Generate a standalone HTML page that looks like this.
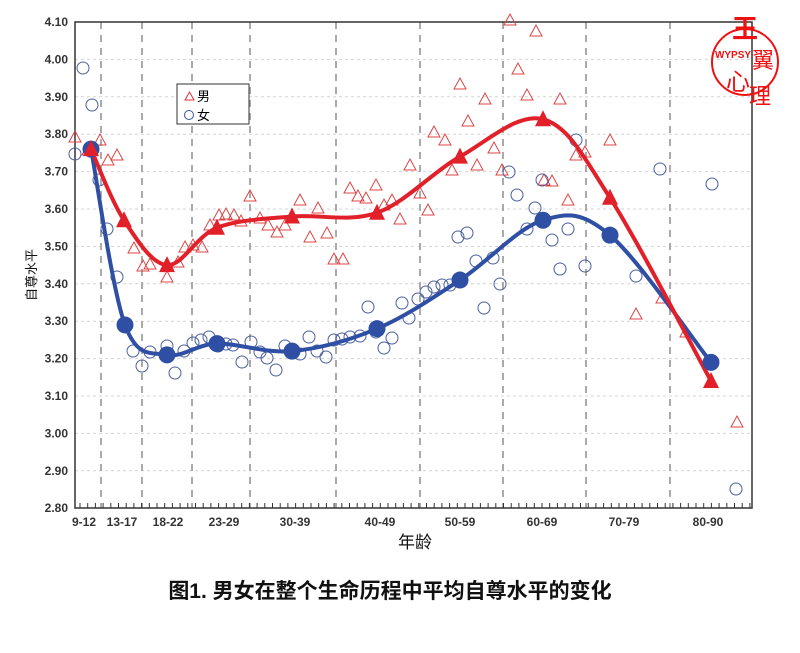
<!DOCTYPE html>
<html><head><meta charset="utf-8"><style>
body{margin:0;background:#fff;width:800px;height:648px;overflow:hidden}
svg text{font-family:"Liberation Sans","Noto Sans CJK SC",sans-serif}
</style></head><body>
<svg id="s" width="800" height="648" viewBox="0 0 800 648" xmlns="http://www.w3.org/2000/svg">
<g id="grid"></g>
<rect x="75" y="22" width="677" height="486" fill="none" stroke="#333" stroke-width="1.5"/>
<g id="pts"></g>
<g id="curves"></g>
<g id="labels" font-size="12" font-weight="bold" fill="#333"></g>
<rect x="177" y="84" width="72" height="40" fill="#fff" stroke="#333" stroke-width="1"/>
<polygon points="185,100 189.5,92 194,100" fill="none" stroke="#d33" stroke-width="1"/>
<text x="197" y="101" font-size="13">男</text>
<circle cx="189" cy="115" r="4.5" fill="none" stroke="#35a" stroke-width="1"/>
<text x="197" y="120" font-size="13">女</text>
<text x="415" y="548" font-size="17" text-anchor="middle" fill="#111">年龄</text>
<text transform="translate(36,275) rotate(-90)" font-size="13" text-anchor="middle" fill="#111">自尊水平</text>
<text x="390" y="598" font-size="21" font-weight="bold" text-anchor="middle" fill="#111">图1.  男女在整个生命历程中平均自尊水平的变化</text>
<g>
<circle cx="745" cy="62" r="33" fill="none" stroke="#e11" stroke-width="2"/>
<text x="745" y="38" font-size="26" fill="#e11" font-weight="bold" text-anchor="middle">王</text>
<text x="763" y="68" font-size="22" fill="#e11" text-anchor="middle">翼</text>
<text x="738" y="90" font-size="24" fill="#e11" text-anchor="middle">心</text>
<text x="760" y="104" font-size="22" fill="#e11" text-anchor="middle">理</text>
<text x="733" y="58" font-size="10" fill="#e11" font-weight="bold" text-anchor="middle">WYPSY</text>
</g>
</svg>
<script>
const NS="http://www.w3.org/2000/svg";
function el(t,a,p){const e=document.createElementNS(NS,t);for(const k in a)e.setAttribute(k,a[k]);document.getElementById(p).appendChild(e);return e;}
const Y=v=>22+(4.10-v)*374;
for(let i=0;i<=13;i++){const v=2.8+i*0.1,y=Y(v);
 if(i>0&&i<13)el('line',{x1:75,x2:752,y1:y,y2:y,stroke:'#d4d4d4','stroke-dasharray':'3,3'},'grid');
 const t=el('text',{x:68,y:y+4,'text-anchor':'end'},'labels');t.textContent=v.toFixed(2);}
[101,142,192,250,336,420,503,586,670].forEach(x=>el('line',{x1:x,x2:x,y1:22,y2:508,stroke:'#aaa','stroke-width':2,'stroke-dasharray':'7,6'},'grid'));
for(let x=80;x<752;x+=7.7)el('line',{x1:x,x2:x,y1:508,y2:503,stroke:'#333'},'grid');
[['9-12',84],['13-17',122],['18-22',168],['23-29',224],['30-39',295],['40-49',380],['50-59',460],['60-69',542],['70-79',624],['80-90',708]].forEach(([s,x])=>{const t=el('text',{x:x,y:526,'text-anchor':'middle'},'labels');t.textContent=s;});
const M=[[75,137],[88,150],[100,140],[108,160],[117,155],[134,248],[143,266],[150,264],[167,277],[178,262],[185,247],[193,245],[202,247],[210,225],[219,215],[226,214],[234,215],[241,221],[250,196],[260,218],[268,225],[277,232],[285,225],[300,200],[310,237],[318,208],[327,233],[334,259],[343,259],[350,188],[358,196],[366,198],[376,185],[384,205],[392,200],[400,219],[410,165],[420,193],[428,210],[434,132],[445,140],[452,170],[460,84],[468,121],[477,165],[485,99],[494,148],[502,170],[510,20],[518,69],[527,95],[536,31],[544,180],[552,181],[560,99],[568,200],[576,155],[585,152],[610,140],[636,314],[662,298],[686,332],[737,422]];
const F=[[75,154],[83,68],[92,105],[99,180],[107,229],[117,277],[133,351],[142,366],[150,352],[167,346],[175,373],[184,351],[193,343],[201,340],[209,337],[218,346],[226,344],[233,345],[242,362],[251,342],[260,352],[267,358],[276,370],[285,346],[292,353],[300,354],[309,337],[317,351],[326,357],[334,340],[342,339],[350,337],[360,336],[368,307],[376,332],[384,348],[392,338],[402,303],[409,318],[418,299],[426,292],[434,287],[442,285],[450,285],[458,237],[467,233],[476,261],[484,308],[493,258],[500,284],[509,172],[517,195],[527,229],[535,208],[542,180],[552,240],[560,269],[568,229],[576,140],[585,266],[636,276],[660,169],[712,184],[736,489]];
M.forEach(([x,y])=>el('polygon',{points:`${x-6},${y+5} ${x},${y-6} ${x+6},${y+5}`,fill:'none',stroke:'#d44','stroke-width':1},'pts'));
F.forEach(([x,y])=>el('circle',{cx:x,cy:y,r:6,fill:'none',stroke:'#4a5f9f','stroke-width':1},'pts'));
function cr(p){let d=`M${p[0][0]},${p[0][1]}`;for(let i=0;i<p.length-1;i++){const a=p[Math.max(0,i-1)],b=p[i],c=p[i+1],e=p[Math.min(p.length-1,i+2)];d+=` C${b[0]+(c[0]-a[0])/6},${b[1]+(c[1]-a[1])/6} ${c[0]-(e[0]-b[0])/6},${c[1]-(e[1]-b[1])/6} ${c[0]},${c[1]}`;}return d;}
const MK=[[91,3.76],[124,3.57],[167,3.45],[217,3.55],[292,3.58],[377,3.59],[460,3.74],[543,3.84],[610,3.63],[711,3.14]].map(([x,v])=>[x,Y(v)]);
const FK=[[91,3.76],[125,3.29],[167,3.21],[217,3.24],[292,3.22],[377,3.28],[460,3.41],[543,3.57],[610,3.53],[711,3.19]].map(([x,v])=>[x,Y(v)]);
el('path',{d:cr(FK),fill:'none',stroke:'#2e4fa3','stroke-width':4},'curves');
el('path',{d:cr(MK),fill:'none',stroke:'#e2202a','stroke-width':4},'curves');
FK.forEach(([x,y])=>el('circle',{cx:x,cy:y,r:8.5,fill:'#2e4fa3'},'curves'));
MK.forEach(([x,y])=>el('polygon',{points:`${x-8},${y+7} ${x},${y-9} ${x+8},${y+7}`,fill:'#e2202a'},'curves'));
</script>
</body></html>
